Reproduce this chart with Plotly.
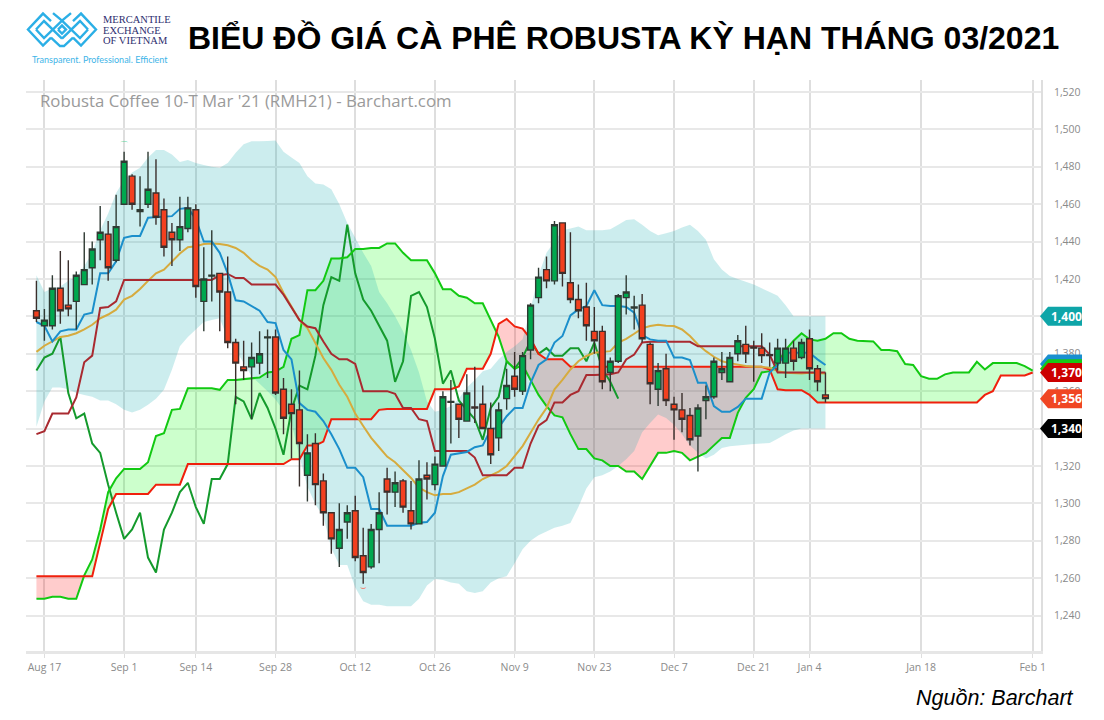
import plotly.graph_objects as go

# ---------- data ----------
bar_index = list(range(-1, 99))
forward_index = list(range(-1, 125))
lag_index = list(range(-1, 73))
tick_bars = [0, 10, 19, 29, 39, 49, 59, 69, 79, 89, 96, 110, 124]
tick_labels = ["Aug 17", "Sep 1", "Sep 14", "Sep 28", "Oct 12", "Oct 26", "Nov 9",
               "Nov 23", "Dec 7", "Dec 21", "Jan 4", "Jan 18", "Feb 1"]

opens = [1403, 1395, 1395, 1415, 1406, 1408, 1417, 1426, 1441, 1444,
         1430, 1460, 1475, 1456, 1460, 1466, 1457, 1445, 1441, 1447,
         1457, 1408, 1421.5, 1423, 1413, 1386, 1373, 1373, 1375, 1388.5,
         1389, 1361, 1353, 1350, 1315, 1332, 1312, 1295, 1276, 1290,
         1296, 1272, 1266, 1286, 1313, 1306, 1312, 1296, 1289, 1315,
         1310, 1320, 1354, 1353, 1344, 1351.5, 1353, 1340, 1335, 1356,
         1368, 1360, 1382, 1410, 1425, 1419, 1450, 1418, 1409, 1405,
         1392, 1392, 1370, 1376, 1410, 1404.5, 1406, 1385, 1361, 1372,
         1353, 1350, 1347, 1336, 1355, 1357, 1370, 1365, 1380, 1385,
         1383.5, 1383, 1379.5, 1375, 1375, 1383, 1378, 1388, 1372, 1358]
highs = [1419, 1404, 1422, 1435, 1430, 1424, 1445, 1440, 1459, 1451,
         1465, 1488, 1476, 1475, 1488, 1484, 1463, 1450, 1464, 1464,
         1460, 1437, 1446, 1423, 1432, 1388, 1387, 1386, 1392, 1393,
         1393, 1367, 1361, 1371, 1337, 1337.5, 1316, 1295, 1300, 1299,
         1304, 1287, 1289, 1306, 1319, 1317, 1313, 1312, 1323, 1322,
         1325, 1360, 1366, 1353, 1369, 1373, 1363, 1354, 1354, 1372,
         1381, 1381, 1407, 1426, 1432, 1451, 1450, 1445, 1417, 1418,
         1405, 1395, 1378, 1412, 1422, 1411, 1412, 1386, 1375, 1380,
         1357, 1359, 1351, 1353, 1363, 1378, 1381, 1381, 1390, 1395,
         1387, 1391, 1386, 1388, 1388, 1387, 1388, 1393, 1374, 1370]
lows = [1397, 1387, 1393, 1396, 1400, 1393, 1417, 1417, 1430, 1419,
        1429, 1460, 1457, 1448, 1458, 1449, 1432, 1427, 1435, 1445,
        1410, 1392, 1408, 1392, 1383, 1353, 1366, 1345, 1369, 1367,
        1358, 1337, 1324, 1309, 1301, 1299, 1288, 1273, 1266, 1281,
        1269, 1257, 1265, 1268, 1294, 1298, 1295, 1286, 1289, 1302,
        1307, 1320, 1332, 1335, 1344, 1343, 1340, 1321, 1328, 1350,
        1357, 1358, 1377, 1407, 1415, 1417, 1416, 1407, 1399, 1387,
        1380, 1361, 1360, 1375, 1401, 1393, 1386, 1353, 1352, 1352,
        1334, 1338, 1331, 1317, 1345, 1356, 1366, 1365, 1376, 1375,
        1365, 1375, 1373, 1371, 1367, 1371, 1377, 1366, 1360, 1354]
closes = [1399, 1398, 1415, 1403, 1404, 1422, 1425, 1436, 1445, 1426,
          1448, 1483, 1460, 1457, 1468, 1453, 1437, 1441, 1448, 1458,
          1416, 1420, 1422, 1413, 1386, 1375, 1371, 1378, 1380, 1389,
          1359, 1345.5, 1348, 1332, 1327, 1310, 1295, 1281, 1286, 1295,
          1271, 1263, 1286, 1295, 1306, 1311, 1298, 1289, 1313, 1313,
          1321, 1357, 1354.5, 1345, 1359, 1351, 1340, 1326, 1350, 1363,
          1361, 1379, 1406, 1421, 1419, 1449, 1423, 1409, 1403, 1395,
          1387, 1365, 1376, 1411, 1413, 1405, 1388, 1364, 1371, 1355,
          1350, 1345, 1334, 1351, 1357, 1376, 1372, 1378, 1387, 1380,
          1383, 1379, 1379, 1383, 1383, 1376, 1386, 1372, 1365, 1356]

lagging = [1371, 1378, 1380, 1389, 1359, 1345.5, 1348, 1332, 1327, 1310,
           1295, 1281, 1286, 1295, 1271, 1263, 1286, 1295, 1306, 1311,
           1298, 1289, 1313, 1313, 1321, 1357, 1354.5, 1345, 1359, 1351,
           1340, 1326, 1350, 1363, 1361, 1379, 1406, 1421, 1419, 1449,
           1423, 1409, 1403, 1395, 1387, 1365, 1376, 1411, 1413, 1405,
           1388, 1364, 1371, 1355, 1350, 1345, 1334, 1351, 1357, 1376,
           1372, 1378, 1387, 1380, 1383, 1379, 1379, 1383, 1383, 1376,
           1386, 1372, 1365, 1356]

conversion = [1397, 1395, 1386.6, 1392, 1393, 1393, 1401, 1402, 1423, 1423,
              1429.5, 1442, 1443, 1443, 1452.7, 1453, 1453, 1453.6, 1457.5, 1458,
              1452, 1440, 1440, 1434, 1423, 1408.6, 1408, 1405.7, 1403, 1397,
              1396.4, 1382, 1377, 1353.6, 1350, 1349, 1344, 1337, 1329, 1319,
              1319, 1314, 1297, 1297, 1288, 1288, 1288, 1288, 1289.6, 1290,
              1295, 1314.6, 1326, 1326.7, 1327.5, 1330, 1331, 1339.6, 1340.5, 1346.6,
              1351, 1351, 1364.5, 1374, 1377, 1386, 1389.5, 1400.5, 1403.7, 1405.5,
              1414, 1406, 1405.5, 1405.5, 1405, 1402, 1390, 1387.7, 1387, 1387,
              1378, 1378, 1376.6, 1364.5, 1364.5, 1352, 1349, 1349, 1351.6, 1356,
              1356, 1356, 1370, 1374, 1380.5, 1380.5, 1380.5, 1380.5, 1377, 1374]

base_line = [1337, 1338.6, 1348, 1348, 1348, 1356.6, 1375.5, 1379, 1404.5, 1405,
             1408, 1419.5, 1419.5, 1419.5, 1419.5, 1419.5, 1419.5, 1419.5, 1419.5, 1419.5,
             1419.5, 1419.5, 1419.5, 1422, 1422.7, 1420.5, 1420.5, 1417, 1417, 1417,
             1417, 1411.6, 1405, 1398, 1394.6, 1393.7, 1386.6, 1380, 1377, 1377,
             1374.6, 1360, 1360, 1360, 1360, 1358.6, 1351, 1351, 1345, 1344,
             1328, 1328, 1328, 1328, 1328, 1324.5, 1315, 1315, 1315, 1315,
             1319, 1319, 1332, 1341.6, 1344.5, 1354, 1354, 1358, 1360, 1368.6,
             1368.6, 1368.6, 1369, 1370, 1377, 1379.6, 1386, 1386.4, 1386.4, 1386.4,
             1386.4, 1386.4, 1386.4, 1384, 1384, 1384, 1384, 1384, 1384, 1384,
             1384, 1384, 1379.6, 1370, 1370, 1370, 1370, 1370, 1370, 1370]

moving_avg = [1381, 1384.3, 1386.6, 1389, 1389.6, 1391, 1393, 1395.5, 1399, 1401,
              1403.6, 1409, 1411, 1414.6, 1419, 1423, 1425, 1429.5, 1433.6, 1437,
              1437.5, 1438.7, 1439, 1438.7, 1438, 1436.6, 1434, 1430, 1427, 1425,
              1421, 1412.5, 1405, 1398, 1393.7, 1385.7, 1377.7, 1371.4, 1363.4, 1357,
              1348, 1341.4, 1335, 1330, 1325, 1322, 1318, 1313.6, 1308.4, 1306,
              1304.3, 1305, 1305, 1306, 1308, 1310, 1313, 1315, 1317, 1320,
              1325, 1330.6, 1337.7, 1344.8, 1351, 1361, 1366, 1371.6, 1376, 1378.8,
              1380.5, 1381, 1381.4, 1386, 1388, 1390.7, 1393.6, 1394.8, 1395.5, 1395,
              1394.8, 1393, 1389.5, 1385, 1381.4, 1378.4, 1376, 1375, 1374, 1373.4,
              1373, 1373, 1372.5, 1370.7, 1369.8, 1369.5, 1369.5, 1369.8, 1369.8, 1369.5]

band_upper = [1422, 1413, 1415, 1416, 1419, 1421, 1427, 1434, 1446, 1455,
              1466, 1473, 1477, 1479.5, 1485, 1489, 1489, 1486.6, 1482.5, 1483.6,
              1482, 1481, 1480, 1479.5, 1482, 1487.5, 1492, 1493.6, 1493.6, 1493.8,
              1494, 1488, 1485, 1482, 1475, 1471, 1470.5, 1468, 1460, 1450,
              1442, 1434, 1427, 1413, 1407, 1400, 1392, 1382, 1370, 1354.5,
              1349, 1350, 1352, 1356, 1362, 1366, 1370.7, 1372, 1377, 1381,
              1384, 1387.7, 1404, 1422, 1434, 1440, 1446, 1447, 1448, 1446,
              1446, 1446, 1446.6, 1449, 1451.6, 1452, 1449, 1445.7, 1443.4, 1444.5,
              1445.7, 1447.5, 1449, 1445.7, 1441, 1430.5, 1425, 1421.6, 1420, 1418.5,
              1417, 1415, 1413, 1411, 1406, 1400, 1400, 1400, 1400, 1400]
band_lower = [1341, 1354.5, 1362, 1362, 1361, 1359, 1358, 1357, 1355, 1355,
              1353, 1350, 1348.6, 1350, 1352.7, 1356, 1360.7, 1371.4, 1384, 1389,
              1393, 1397, 1398, 1399, 1388, 1382, 1375, 1368, 1364, 1360,
              1355.5, 1349.5, 1343, 1325, 1309, 1299.5, 1293, 1276, 1267, 1267,
              1255, 1247.6, 1245.7, 1245.7, 1245, 1245, 1245, 1245, 1249, 1256,
              1259.6, 1259, 1257.6, 1257, 1253, 1252, 1253, 1257.6, 1260, 1261,
              1268, 1275.5, 1280, 1283, 1285, 1287, 1288, 1289.5, 1298, 1308,
              1314, 1315, 1317, 1320, 1323.6, 1328, 1338, 1343, 1347.5, 1345.7,
              1342, 1337, 1331, 1327, 1324, 1326, 1329.6, 1330.5, 1331, 1331.4,
              1331.8, 1332, 1332.3, 1334.5, 1337, 1339, 1340, 1340, 1340, 1340]

span_a = [1249, 1249, 1250, 1250, 1249, 1249, 1261.5, 1270, 1286, 1306,
          1313.4, 1318.4, 1318.4, 1318.4, 1322, 1336, 1337.5, 1350, 1350.5, 1361.5,
          1361.5, 1361.5, 1361.5, 1360.7, 1366, 1366, 1366.5, 1367, 1367.3, 1370,
          1370.5, 1373, 1388, 1390, 1414, 1414, 1419, 1431, 1431, 1431.6,
          1436, 1436, 1436.6, 1436.6, 1439, 1439, 1434, 1430, 1430, 1430,
          1423, 1414.5, 1414.5, 1411, 1410, 1407, 1407, 1397.7, 1389, 1376,
          1372, 1374, 1366, 1358, 1352, 1347, 1346, 1337, 1329, 1329,
          1324, 1323, 1320, 1320, 1317, 1317, 1313, 1320, 1327, 1327,
          1328, 1327, 1323, 1325, 1327, 1331, 1335, 1335, 1348.4, 1356.4,
          1361, 1370, 1370.7, 1375, 1382, 1387, 1391, 1387.7, 1387, 1388,
          1391, 1391, 1388, 1387, 1386.6, 1386.6, 1382, 1382, 1381.4, 1374.5,
          1374, 1368, 1366.6, 1366.6, 1369, 1370, 1370, 1370, 1375.7, 1371.6,
          1375, 1375, 1375, 1375, 1373.4, 1371]
span_b = [1261, 1261, 1261, 1261, 1261, 1261, 1261, 1261, 1279, 1297,
          1305, 1305, 1305, 1305, 1305, 1310, 1310, 1310, 1310, 1321,
          1321, 1321, 1321, 1321, 1321, 1321, 1321, 1321, 1321, 1321,
          1321, 1321, 1323.6, 1323.6, 1331, 1331, 1333, 1345, 1345, 1345,
          1345, 1345, 1345, 1350, 1350.5, 1350.5, 1350.5, 1350.5, 1350.5, 1350.5,
          1361, 1361, 1361, 1362.5, 1372, 1372, 1372, 1380, 1396, 1398.6,
          1394.6, 1393.5, 1388, 1380, 1377, 1377, 1377, 1373, 1373, 1373,
          1373, 1373, 1373, 1373, 1373, 1373, 1373, 1373, 1373, 1373,
          1373, 1373, 1373, 1373, 1373, 1373, 1373, 1373, 1373, 1373,
          1373, 1373, 1371.6, 1361, 1360.5, 1360.5, 1360.5, 1358, 1354, 1354,
          1354, 1354, 1354, 1354, 1354, 1354, 1354, 1354, 1354, 1354,
          1354, 1354, 1354, 1354, 1354, 1354, 1354, 1354, 1354, 1358,
          1360, 1368.4, 1368.4, 1368.4, 1368.4, 1370]

y_ticks = list(range(1240, 1521, 20))
# 1,340 and 1,400 sit fully behind their price tags, so only the tag shows the number
y_tick_text = ["" if v in (1340, 1400) else f"{v:,}" for v in y_ticks]
price_tags = [(1400, "1,400", "#0ea5a8"), (1374.5, "", "#1a8fd0"), (1372, "", "#16c916"),
              (1370, "1,370", "#cc0000"), (1356, "1,356", "#f04623"), (1340, "1,340", "#000000")]
extreme_high = (10, 1490.7)
extreme_low = (40, 1254.6)

# ---------- page geometry ----------
W, H = 1104, 720
L, R, T, B = 26, 1041, 80, 651.5
X_RANGE = [(L - 44.4) / 7.97, (R - 44.4) / 7.97]
Y_RANGE = [1240 + (616 - B) / 1.8714, 1240 + (616 - T) / 1.8714]


def px(x):
    return (x - L) / (R - L)


def py(y):
    return (B - y) / (B - T)


def runs(xs, a, b):
    """Split the gap between two series into runs where a>=b or a<b."""
    out, cx, ca, cb = [], [xs[0]], [a[0]], [b[0]]
    for k in range(1, len(xs)):
        d0, d1 = a[k - 1] - b[k - 1], a[k] - b[k]
        if d0 * d1 < 0:
            t = d0 / (d0 - d1)
            xc = xs[k - 1] + t * (xs[k] - xs[k - 1])
            yc = a[k - 1] + t * (a[k] - a[k - 1])
            cx.append(xc); ca.append(yc); cb.append(yc)
            out.append((cx, ca, cb, d0 > 0))
            cx, ca, cb = [xc], [yc], [yc]
        cx.append(xs[k]); ca.append(a[k]); cb.append(b[k])
    out.append((cx, ca, cb, (a[-1] - b[-1]) >= 0))
    return out


fig = go.Figure()

# cloud
for rx, ra, rb, up in runs(forward_index, span_a, span_b):
    fig.add_trace(go.Scatter(x=rx + rx[::-1], y=ra + rb[::-1], fill="toself",
                             fillcolor="rgba(0,255,0,0.2)" if up else "rgba(255,0,0,0.2)",
                             mode="none", hoverinfo="skip", showlegend=False))
# volatility band, over the cloud so the overlaps mix as in the reference
fig.add_trace(go.Scatter(x=bar_index + bar_index[::-1], y=band_upper + band_lower[::-1],
                         fill="toself", fillcolor="rgba(0,165,172,0.2)", mode="none",
                         hoverinfo="skip", showlegend=False))

line_series = [
    (lag_index, lagging, "#149a2c", "Lagging"),
    (forward_index, span_a, "#12c912", "Span A"),
    (forward_index, span_b, "#f0200c", "Span B"),
    (bar_index, moving_avg, "#d6ab3e", "Moving average"),
    (bar_index, base_line, "#a92a30", "Base line"),
    (bar_index, conversion, "#1b8fcb", "Conversion line"),
]
for sx, sy, col, name in line_series:
    fig.add_trace(go.Scatter(x=sx, y=sy, mode="lines", name=name, showlegend=False,
                             line=dict(color=col, width=2)))

# candles live on an overlaying axis pair so they sit above the fills and lines
fig.add_trace(go.Candlestick(x=bar_index, open=opens, high=highs, low=lows, close=closes,
                             xaxis="x2", yaxis="y2", whiskerwidth=0, showlegend=False,
                             increasing=dict(line=dict(color="#2f3a33", width=1.4), fillcolor="#00a84f"),
                             decreasing=dict(line=dict(color="#3a2f2c", width=1.4), fillcolor="#f2401f")))

# high/low arcs
fig.add_trace(go.Scatter(x=[extreme_high[0]], y=[extreme_high[1]], mode="text", text=["⌒"],
                         textposition="middle center", textfont=dict(color="#5fd6a0", size=10, family="DejaVu Sans"),
                         showlegend=False, hoverinfo="skip"))
fig.add_trace(go.Scatter(x=[extreme_low[0]], y=[extreme_low[1]], mode="text", text=["⌣"],
                         textposition="middle center", textfont=dict(color="#ee8a7a", size=10, family="DejaVu Sans"),
                         showlegend=False, hoverinfo="skip"))

shapes = []
annotations = []

# price tags on the right axis
for val, label, col in price_tags:
    shapes.append(dict(type="path", xref="paper", yref="y", xsizemode="pixel", ysizemode="pixel",
                       xanchor=1, yanchor=val,
                       path="M -1 0 L 7 -9.5 L 41 -9.5 L 41 9.5 L 7 9.5 Z",
                       fillcolor=col, line=dict(width=0), layer="above"))
    if label:
        annotations.append(dict(x=1, y=val, xref="paper", yref="y", text=f"<b>{label}</b>",
                                showarrow=False, xanchor="left", xshift=8,
                                font=dict(family="Open Sans", size=12, color="white")))

# logo mark
LOGO = "#2bafe6"
logo_paths = [
    [(51, 21), (43, 13.5), (28, 29.5), (43, 45.5), (51, 37.5)],
    [(36, 29.5), (44, 21), (62, 38.5)],
    [(36, 29.5), (44, 38), (62, 20.5), (71, 13)],
    [(73, 21), (81, 13.5), (96, 29.5), (81, 45.5), (73, 37.5)],
    [(88, 29.5), (80, 21), (62, 38.5)],
    [(88, 29.5), (80, 38), (62, 20.5), (53, 13)],
    [(58, 29.5), (62, 25.5), (66, 29.5), (62, 33.5), (58, 29.5)],
    [(51, 37.5), (60, 46), (64, 46), (73, 37.5)],
]
for pts in logo_paths:
    path = "M " + " L ".join(f"{px(a)} {py(b)}" for a, b in pts)
    shapes.append(dict(type="path", xref="paper", yref="paper", path=path,
                       line=dict(color=LOGO, width=2.4)))


def page_text(text, x, y, size, color, family, xanchor="left"):
    annotations.append(dict(text=text, x=px(x), y=py(y), xref="paper", yref="paper", showarrow=False,
                            xanchor=xanchor, yanchor="middle",
                            font=dict(size=size, color=color, family=family)))


page_text("MERCANTILE", 101, 19, 10.5, "#2d2e6e", "Liberation Serif")
page_text("EXCHANGE", 101, 30, 10.5, "#2d2e6e", "Liberation Serif")
page_text("OF VIETNAM", 101, 40, 10.5, "#2d2e6e", "Liberation Serif")
page_text("Transparent. Professional. Efficient", 30, 59, 9, "#3fb5e8", "Lato")
page_text("Robusta Coffee 10-T Mar '21 (RMH21) - Barchart.com", 38, 100.5, 16.8, "#9a9a9a", "Open Sans")
page_text("<i>Nguồn: Barchart</i>", 1076, 699, 21.5, "#000000", "Liberation Sans", xanchor="right")

fig.update_layout(
    width=W, height=H, autosize=False,
    margin=dict(l=L, r=W - R, t=T, b=H - B, pad=0),
    paper_bgcolor="white", plot_bgcolor="white",
    showlegend=False, hovermode=False, boxgap=0.15, boxgroupgap=0.15,
    shapes=shapes, annotations=annotations,
    title=dict(text="<b>BIỂU ĐỒ GIÁ CÀ PHÊ ROBUSTA KỲ HẠN THÁNG 03/2021</b>",
               x=188 / W, y=1 - 38 / H, xanchor="left", yanchor="middle", xref="container", yref="container",
               font=dict(family="Liberation Sans", size=32, color="black")),
    xaxis=dict(range=X_RANGE, tickmode="array", tickvals=tick_bars, ticktext=tick_labels,
               showgrid=True, gridcolor="#dedede", gridwidth=1.6, zeroline=False,
               showline=True, linecolor="#e6e6e6", linewidth=3, ticks="outside", ticklen=4,
               tickcolor="#dedede", tickfont=dict(family="Open Sans", size=10.5, color="#8a8a8a"),
               rangeslider=dict(visible=False), fixedrange=True),
    yaxis=dict(range=Y_RANGE, side="right", tickmode="array", tickvals=y_ticks, ticktext=y_tick_text,
               showgrid=True, gridcolor="#e8e8e8", gridwidth=2.4, zeroline=False,
               showline=True, linecolor="#dedede", linewidth=1.6, ticks="", ticklabelstandoff=9,
               tickfont=dict(family="Open Sans", size=10.5, color="#8a8a8a"), fixedrange=True),
    xaxis2=dict(range=X_RANGE, overlaying="x", visible=False, rangeslider=dict(visible=False), fixedrange=True),
    yaxis2=dict(range=Y_RANGE, overlaying="y", visible=False, fixedrange=True, side="right"),
)

fig.write_html("out.html", config=dict(displayModeBar=False),
               post_script="document.body.style.margin='0';")
